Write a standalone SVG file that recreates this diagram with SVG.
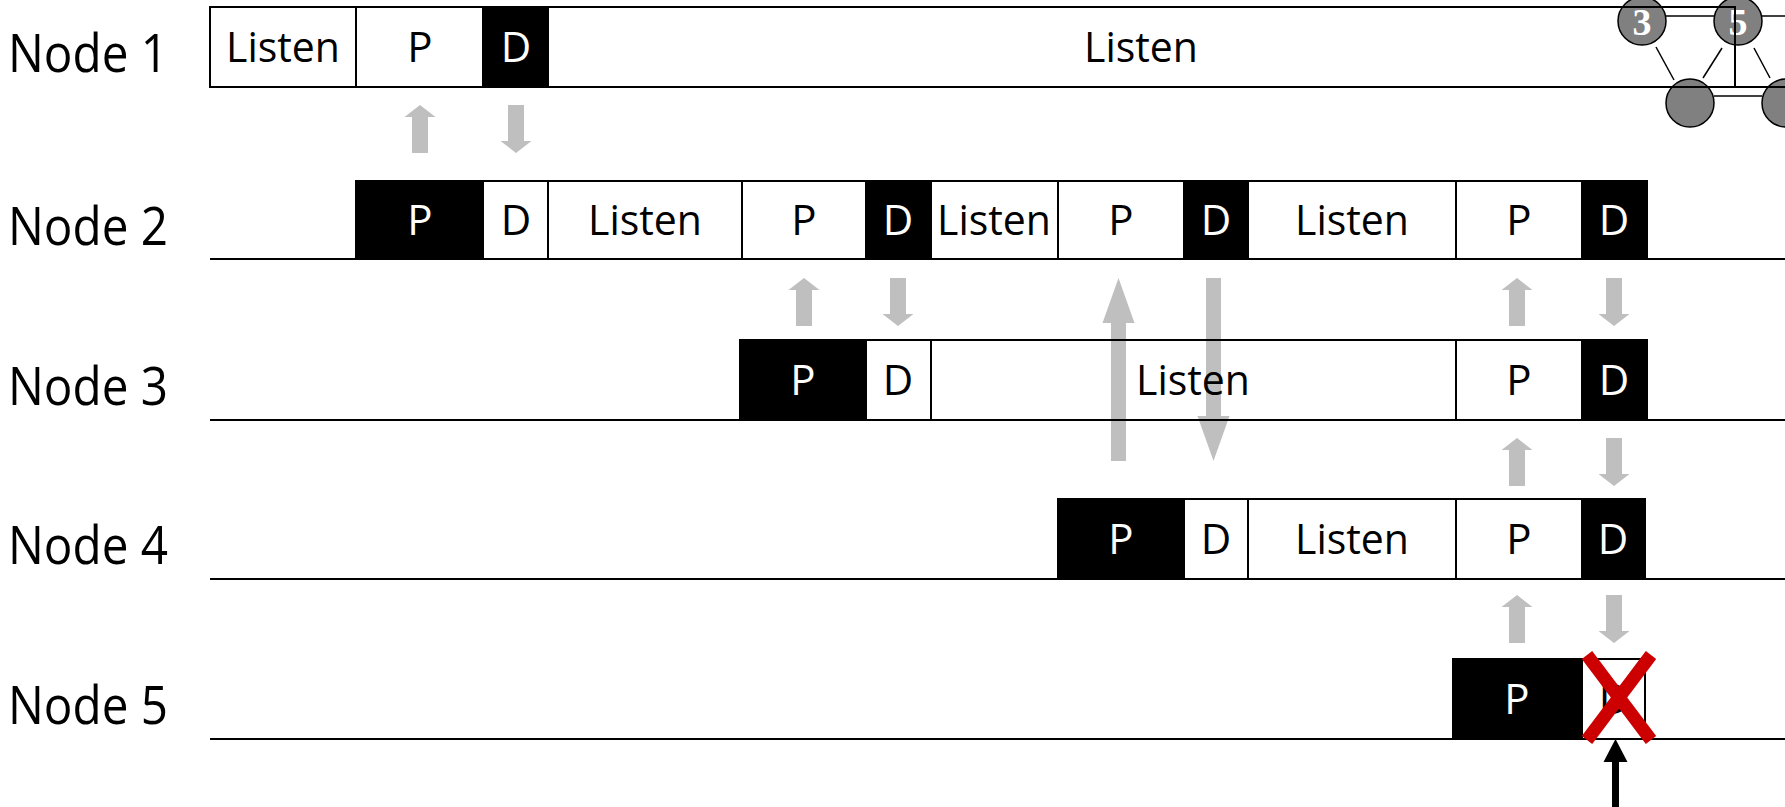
<svg xmlns="http://www.w3.org/2000/svg" xmlns:xlink="http://www.w3.org/1999/xlink" width="1785" height="807" viewBox="0 0 1785 807">
  <style>
    .seg{fill:none;stroke:#000;stroke-width:2}
    .blk{fill:#000;stroke:#000;stroke-width:2}
    .base{fill:none;stroke:#000;stroke-width:2}
    .t{font-family:'Open Sans','Noto Sans','DejaVu Sans',sans-serif;font-size:42px;text-anchor:middle;fill:#000}
    .w{fill:#fff}
    .lbl{font-family:'Open Sans','Noto Sans','DejaVu Sans',sans-serif;font-size:53px;fill:#000}
    .ga{fill:#bfbfbf}
    .gn{fill:#808080;stroke:#000;stroke-width:1.5}
    .ge{stroke:#000;stroke-width:1.5}
    .gd{font-family:'Liberation Serif','Times New Roman',serif;font-size:38px;font-weight:bold;fill:#fff;text-anchor:middle}
  </style>
  <defs>
    <!-- short gray arrows, origin at top centre, 48 px long -->
    <path id="up" d="M0,0 L15.5,12 L8,12 L8,48 L-8,48 L-8,12 L-15.5,12 Z"/>
    <path id="dn" d="M-8,0 L8,0 L8,36 L15.5,36 L0,48 L-15.5,36 L-8,36 Z"/>
  </defs>

  <!-- small topology sketch behind the first timeline -->
  <g id="topology">
    <line class="ge" x1="1666" y1="16" x2="1714" y2="16"/>
    <line class="ge" x1="1762" y1="16" x2="1785" y2="16"/>
    <line class="ge" x1="1714" y1="96" x2="1762" y2="96"/>
    <line class="ge" x1="1656" y1="47" x2="1674" y2="80"/>
    <line class="ge" x1="1722" y1="48" x2="1703" y2="78"/>
    <line class="ge" x1="1754" y1="48" x2="1770" y2="78"/>
    <circle class="gn" cx="1642" cy="21" r="24"/>
    <circle class="gn" cx="1738" cy="21" r="24"/>
    <circle class="gn" cx="1690" cy="103" r="24"/>
    <circle class="gn" cx="1786" cy="103" r="24"/>
    <text class="gd" x="1642" y="35">3</text>
    <text class="gd" x="1738" y="35">5</text>
  </g>

  <!-- message arrows sit under the timelines -->
  <g id="connectors">
    <g class="ga">
      <use xlink:href="#up" x="420" y="105"/>
      <use xlink:href="#dn" x="516" y="105"/>
      <use xlink:href="#up" x="804" y="278"/>
      <use xlink:href="#dn" x="898" y="278"/>
      <use xlink:href="#up" x="1517" y="278"/>
      <use xlink:href="#dn" x="1614" y="278"/>
      <use xlink:href="#up" x="1517" y="438"/>
      <use xlink:href="#dn" x="1614" y="438"/>
      <use xlink:href="#up" x="1517" y="595"/>
      <use xlink:href="#dn" x="1614" y="595"/>
      <!-- long hops between Node 2 and Node 4 -->
      <path d="M1118.5,278 L1134.5,323 L1126,323 L1126,461 L1111,461 L1111,323 L1102.5,323 Z"/>
      <path d="M1206,278 L1221,278 L1221,416 L1229.5,416 L1213.5,461 L1197.5,416 L1206,416 Z"/>
    </g>
    <path fill="#000" d="M1615.5,739 L1627.5,762 L1619,762 L1619,807 L1612,807 L1612,762 L1603.5,762 Z"/>
  </g>

  <g id="node1">
    <text class="lbl" x="8" y="72" textLength="160" lengthAdjust="spacingAndGlyphs">Node 1</text>
    <path class="base" d="M210,87 H1785 M210,7 H1735 V87"/>
    <rect class="seg" x="210" y="7" width="146" height="80"/>
    <rect class="seg" x="356" y="7" width="127" height="80"/>
    <rect class="blk" x="483" y="7" width="65" height="80"/>
    <text class="t" x="283" y="62" textLength="114" lengthAdjust="spacingAndGlyphs">Listen</text>
    <text class="t" x="420" y="62">P</text>
    <text class="t w" x="516" y="62">D</text>
    <text class="t" x="1141" y="62" textLength="114" lengthAdjust="spacingAndGlyphs">Listen</text>
  </g>

  <g id="node2">
    <text class="lbl" x="8" y="245" textLength="160" lengthAdjust="spacingAndGlyphs">Node 2</text>
    <line class="base" x1="210" y1="259" x2="1785" y2="259"/>
    <rect class="blk" x="356" y="181" width="127" height="78"/>
    <rect class="seg" x="483" y="181" width="65" height="78"/>
    <rect class="seg" x="548" y="181" width="194" height="78"/>
    <rect class="seg" x="742" y="181" width="124" height="78"/>
    <rect class="blk" x="866" y="181" width="65" height="78"/>
    <rect class="seg" x="931" y="181" width="127" height="78"/>
    <rect class="seg" x="1058" y="181" width="126" height="78"/>
    <rect class="blk" x="1184" y="181" width="64" height="78"/>
    <rect class="seg" x="1248" y="181" width="208" height="78"/>
    <rect class="seg" x="1456" y="181" width="126" height="78"/>
    <rect class="blk" x="1582" y="181" width="65" height="78"/>
    <text class="t w" x="420" y="235">P</text>
    <text class="t" x="516" y="235">D</text>
    <text class="t" x="645" y="235" textLength="114" lengthAdjust="spacingAndGlyphs">Listen</text>
    <text class="t" x="804" y="235">P</text>
    <text class="t w" x="898" y="235">D</text>
    <text class="t" x="994" y="235" textLength="114" lengthAdjust="spacingAndGlyphs">Listen</text>
    <text class="t" x="1121" y="235">P</text>
    <text class="t w" x="1216" y="235">D</text>
    <text class="t" x="1352" y="235" textLength="114" lengthAdjust="spacingAndGlyphs">Listen</text>
    <text class="t" x="1519" y="235">P</text>
    <text class="t w" x="1614" y="235">D</text>
  </g>

  <g id="node3">
    <text class="lbl" x="8" y="405" textLength="160" lengthAdjust="spacingAndGlyphs">Node 3</text>
    <line class="base" x1="210" y1="420" x2="1785" y2="420"/>
    <rect class="blk" x="740" y="340" width="126" height="80"/>
    <rect class="seg" x="866" y="340" width="65" height="80"/>
    <rect class="seg" x="931" y="340" width="525" height="80"/>
    <rect class="seg" x="1456" y="340" width="126" height="80"/>
    <rect class="blk" x="1582" y="340" width="65" height="80"/>
    <text class="t w" x="803" y="395">P</text>
    <text class="t" x="898" y="395">D</text>
    <text class="t" x="1193" y="395" textLength="114" lengthAdjust="spacingAndGlyphs">Listen</text>
    <text class="t" x="1519" y="395">P</text>
    <text class="t w" x="1614" y="395">D</text>
  </g>

  <g id="node4">
    <text class="lbl" x="8" y="564" textLength="160" lengthAdjust="spacingAndGlyphs">Node 4</text>
    <line class="base" x1="210" y1="579" x2="1785" y2="579"/>
    <rect class="blk" x="1058" y="499" width="126" height="80"/>
    <rect class="seg" x="1184" y="499" width="64" height="80"/>
    <rect class="seg" x="1248" y="499" width="208" height="80"/>
    <rect class="seg" x="1456" y="499" width="126" height="80"/>
    <rect class="blk" x="1582" y="499" width="63" height="80"/>
    <text class="t w" x="1121" y="554">P</text>
    <text class="t" x="1216" y="554">D</text>
    <text class="t" x="1352" y="554" textLength="114" lengthAdjust="spacingAndGlyphs">Listen</text>
    <text class="t" x="1519" y="554">P</text>
    <text class="t w" x="1613" y="554">D</text>
  </g>

  <g id="node5">
    <text class="lbl" x="8" y="724" textLength="160" lengthAdjust="spacingAndGlyphs">Node 5</text>
    <line class="base" x1="210" y1="739" x2="1785" y2="739"/>
    <rect class="blk" x="1453" y="659" width="129" height="80"/>
    <rect class="seg" x="1582" y="659" width="63" height="80"/>
    <text class="t w" x="1517" y="714">P</text>
    <text class="t" x="1614" y="714">D</text>
    <!-- lost data slot -->
    <g stroke="#cc0000" stroke-width="13">
      <line x1="1587" y1="655" x2="1651" y2="740"/>
      <line x1="1651" y1="655" x2="1587" y2="740"/>
    </g>
  </g>
</svg>
